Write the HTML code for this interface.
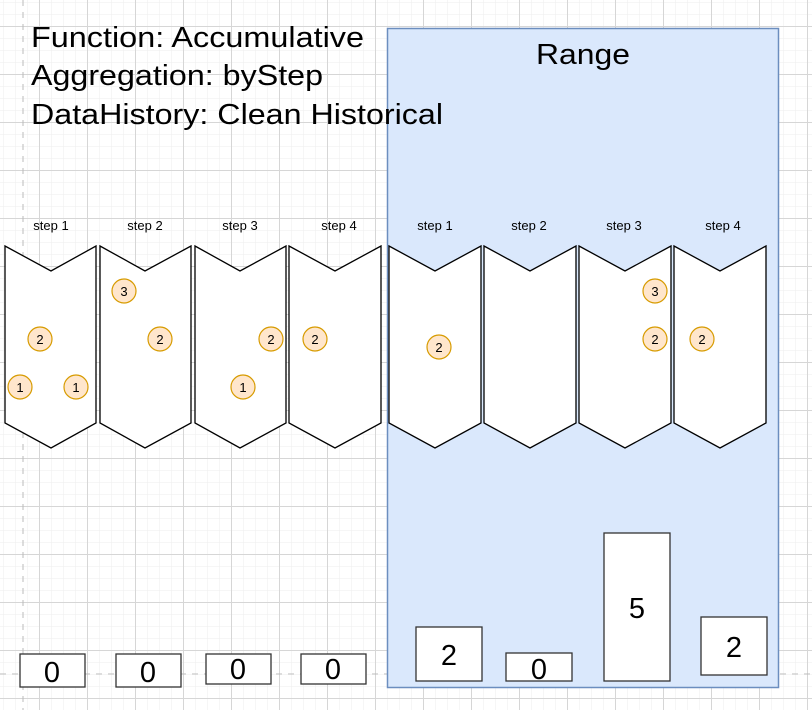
<!DOCTYPE html>
<html><head><meta charset="utf-8"><style>
html,body{margin:0;padding:0;background:#fff;}
svg{display:block;font-family:"Liberation Sans",Arial,sans-serif;}
</style></head><body>
<svg width="812" height="710" viewBox="0 0 812 710" xmlns="http://www.w3.org/2000/svg">
<defs>
<pattern id="minor" width="12" height="12" patternUnits="userSpaceOnUse" x="3" y="2">
<path d="M0 0H12M0 0V12" stroke="#eeeeee" stroke-width="1" fill="none"/>
</pattern>
<pattern id="major" width="48" height="48" patternUnits="userSpaceOnUse" x="39" y="26">
<path d="M0 0.5H48M0.5 0V48" stroke="#d6d6d6" stroke-width="1" fill="none"/>
</pattern>
</defs>
<rect width="812" height="710" fill="#fff"/>
<rect width="812" height="710" fill="url(#minor)"/>
<rect width="812" height="710" fill="url(#major)"/>
<line x1="23" y1="0" x2="23" y2="710" stroke="#bbb" stroke-dasharray="6,6"/>
<line x1="0" y1="674" x2="812" y2="674" stroke="#bbb" stroke-dasharray="6,6"/>

<rect x="387.5" y="28.5" width="391" height="659" fill="#dae8fc" stroke="#6c8ebf" stroke-width="1.5"/>
<text x="536" y="64" font-size="29" textLength="94" lengthAdjust="spacingAndGlyphs">Range</text>

<g font-size="29" fill="#000">
<text x="31" y="47" textLength="333" lengthAdjust="spacingAndGlyphs">Function: Accumulative</text>
<text x="31" y="85" textLength="292" lengthAdjust="spacingAndGlyphs">Aggregation: byStep</text>
<text x="31" y="124" textLength="412" lengthAdjust="spacingAndGlyphs">DataHistory: Clean Historical</text>
</g>

<g font-size="13" text-anchor="middle">
<text x="51" y="230">step 1</text>
<text x="145" y="230">step 2</text>
<text x="240" y="230">step 3</text>
<text x="339" y="230">step 4</text>
<text x="435" y="230">step 1</text>
<text x="529" y="230">step 2</text>
<text x="624" y="230">step 3</text>
<text x="723" y="230">step 4</text>
</g>

<g fill="#fff" stroke="#000" stroke-width="1.3">
<path d="M5 246 L51 271 L96 246 L96 423 L51 448 L5 423Z"/>
<path d="M100 246 L145 271 L191 246 L191 423 L145 448 L100 423Z"/>
<path d="M195 246 L240 271 L286 246 L286 423 L240 448 L195 423Z"/>
<path d="M289 246 L335 271 L381 246 L381 423 L335 448 L289 423Z"/>
<path d="M389 246 L435 271 L481 246 L481 423 L435 448 L389 423Z"/>
<path d="M484 246 L530 271 L576 246 L576 423 L530 448 L484 423Z"/>
<path d="M579 246 L625 271 L671 246 L671 423 L625 448 L579 423Z"/>
<path d="M674 246 L720 271 L766 246 L766 423 L720 448 L674 423Z"/>
</g>

<g font-size="13" text-anchor="middle">
<g fill="#ffe6cc" stroke="#d79b00" stroke-width="1.2">
<circle cx="40" cy="339" r="12"/><circle cx="20" cy="387" r="12"/><circle cx="76" cy="387" r="12"/>
<circle cx="124" cy="291" r="12"/><circle cx="160" cy="339" r="12"/>
<circle cx="271" cy="339" r="12"/><circle cx="243" cy="387" r="12"/>
<circle cx="315" cy="339" r="12"/>
<circle cx="439" cy="347" r="12"/>
<circle cx="655" cy="291" r="12"/><circle cx="655" cy="339" r="12"/><circle cx="702" cy="339" r="12"/>
</g>
<text x="40" y="344">2</text><text x="20" y="392">1</text><text x="76" y="392">1</text>
<text x="124" y="296">3</text><text x="160" y="344">2</text>
<text x="271" y="344">2</text><text x="243" y="392">1</text>
<text x="315" y="344">2</text>
<text x="439" y="352">2</text>
<text x="655" y="296">3</text><text x="655" y="344">2</text><text x="702" y="344">2</text>
</g>

<g fill="#fff" stroke="#333" stroke-width="1.3">
<rect x="20" y="654" width="65" height="33"/>
<rect x="116" y="654" width="65" height="33"/>
<rect x="206" y="654" width="65" height="30"/>
<rect x="301" y="654" width="65" height="30"/>
<rect x="416" y="627" width="66" height="54"/>
<rect x="506" y="653" width="66" height="28"/>
<rect x="604" y="533" width="66" height="148"/>
<rect x="701" y="617" width="66" height="58"/>
</g>
<g font-size="29" text-anchor="middle">
<text x="52" y="682">0</text>
<text x="148" y="682">0</text>
<text x="238" y="679">0</text>
<text x="333" y="679">0</text>
<text x="449" y="665">2</text>
<text x="539" y="679">0</text>
<text x="637" y="618">5</text>
<text x="734" y="657">2</text>
</g>
</svg>
</body></html>
